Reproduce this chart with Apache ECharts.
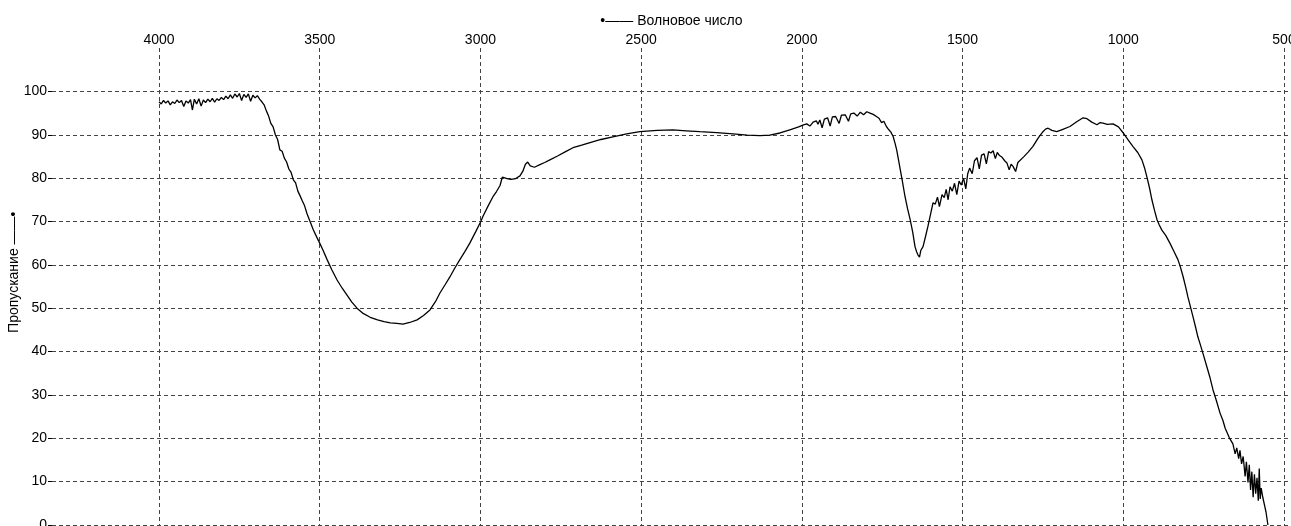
<!DOCTYPE html>
<html><head><meta charset="utf-8">
<script src="https://cdn.jsdelivr.net/npm/echarts@6/dist/echarts.min.js"></script>
<style>html,body{margin:0;padding:0;background:#fff}#c{width:1291px;height:526px}</style>
</head><body><div id="c"></div>
<script>
const wavenumbers = [4000,3993,3986,3979,3972,3965,3958,3951,3944,3937,3930,3923,3916,3909,3902,3896,3890,3883,3876,3869,3862,3855,3848,3841,3834,3827,3820,3813,3806,3799,3792,3785,3778,3771,3764,3757,3750,3743,3736,3729,3722,3715,3708,3701,3694,3687,3680,3673,3666,3659,3652,3645,3638,3631,3624,3617,3610,3603,3596,3589,3582,3575,3568,3561,3554,3547,3540,3530,3520,3510,3500,3490,3477,3462,3446,3430,3415,3400,3384,3365,3343,3320,3300,3280,3260,3241,3220,3197,3177,3157,3140,3126,3110,3095,3080,3064,3048,3033,3015,3000,2992,2976,2961,2950,2939,2932,2926,2917,2905,2890,2877,2868,2860,2853,2845,2832,2815,2800,2784,2760,2735,2712,2685,2659,2625,2588,2545,2504,2450,2401,2360,2317,2265,2214,2170,2130,2100,2068,2035,2010,1997,1985,1975,1965,1955,1950,1944,1937,1930,1920,1912,1905,1895,1884,1877,1865,1855,1848,1838,1828,1818,1808,1798,1788,1778,1768,1760,1752,1745,1737,1730,1723,1716,1710,1705,1701,1694,1688,1679,1671,1663,1655,1648,1643,1639,1634,1630,1623,1616,1608,1600,1592,1585,1578,1572,1564,1557,1551,1545,1539,1532,1525,1518,1511,1504,1497,1490,1484,1478,1470,1463,1455,1448,1441,1433,1426,1419,1412,1405,1398,1392,1385,1377,1369,1362,1355,1349,1343,1335,1328,1322,1310,1296,1281,1265,1250,1242,1234,1222,1207,1190,1166,1145,1125,1113,1098,1082,1072,1063,1050,1032,1015,1000,985,969,955,942,934,926,918,911,903,895,888,880,868,855,843,830,822,814,806,799,791,783,775,768,762,751,740,731,721,710,699,690,683,677,670,665,659,652,647,641,637,632,627,621,617,612,608,604,600,596,592,588,584,580,577,574,571,566,561,556,550];
const transmittance = [97.6,97.1,97.9,97.3,97.8,96.9,97.6,97.2,98.0,97.4,97.9,96.5,97.8,97.3,98.1,95.7,98.2,97.1,98.3,96.6,98.0,97.4,98.2,97.6,98.4,97.5,98.3,97.9,98.6,98.1,98.9,98.3,99.2,98.4,99.4,98.7,99.5,97.9,99.3,98.6,99.4,97.7,99.1,98.5,99.0,98.2,97.6,96.9,95.5,94.3,92.6,91.8,90.0,88.9,86.5,86.2,84.6,83.7,82.1,81.3,79.6,78.9,77.0,75.9,74.7,73.6,71.9,70.0,68.1,66.5,65.0,63.4,61.2,58.8,56.5,54.6,53.0,51.4,50.0,48.8,47.9,47.3,46.9,46.6,46.5,46.3,46.7,47.3,48.3,49.6,51.5,53.5,55.4,57.2,59.2,61.2,63.1,65.0,67.6,69.8,71.2,73.6,75.7,76.9,78.3,80.2,80.6,79.9,79.7,79.9,80.5,81.6,83.2,83.7,82.8,82.5,83.1,83.6,84.2,85.1,86.1,87.0,87.6,88.2,88.9,89.5,90.2,90.7,91.0,91.1,90.9,90.7,90.5,90.2,89.9,89.8,89.9,90.4,91.2,91.8,92.2,92.5,92.0,92.9,93.2,92.4,93.4,91.6,93.6,93.9,92.0,94.1,94.2,92.6,94.5,94.6,93.1,94.8,95.0,94.3,95.2,94.6,95.3,95.0,94.7,94.2,93.8,92.8,93.1,91.9,91.2,90.6,89.6,88.0,86.5,84.9,82.0,79.6,75.7,72.9,70.4,67.5,64.2,63.0,62.3,61.8,63.3,64.2,66.3,68.8,71.5,74.3,74.0,75.6,73.4,76.2,75.5,77.4,75.0,78.0,77.0,78.8,76.2,79.3,78.4,80.0,77.5,81.0,82.3,81.0,84.0,84.7,82.1,85.3,85.6,83.3,86.1,85.8,86.3,84.5,85.9,85.2,84.8,84.0,83.5,81.9,83.2,82.7,81.5,83.6,83.8,84.9,86.0,87.3,89.2,90.7,91.3,91.5,91.0,90.7,91.2,91.9,93.0,93.9,93.7,92.9,92.3,92.8,92.7,92.4,92.5,91.8,90.4,88.8,87.2,85.9,84.2,82.4,80.1,77.6,75.0,72.6,70.4,69.2,68.0,66.8,65.0,63.2,61.2,59.4,57.3,54.9,52.6,50.3,48.0,45.6,43.4,42.0,39.3,36.5,34.2,31.2,28.6,25.8,24.1,22.3,21.9,20.1,19.9,18.7,16.4,17.8,15.3,17.2,14.1,15.8,11.2,14.6,9.8,13.9,8.1,12.3,6.4,11.7,7.2,10.9,5.6,13.0,6.0,8.5,6.4,4.7,3.0,0.0];
const xTickValues = [4000,3500,3000,2500,2000,1500,1000,500];
const yTickValues = [0,10,20,30,40,50,60,70,80,90,100];
const xName = '•—— Волновое число';
const yName = 'Пропускание ——•';

const FONT = 'Liberation Sans';
const FS = 14;
const gridLine = {show:true, lineStyle:{color:'#444', type:[4,3], width:1}};
const chart = echarts.init(document.getElementById('c'), null, {renderer:'canvas'});
chart.setOption({
  animation:false,
  backgroundColor:'#fff',
  grid:[
    {left:52, right:0, top:91.4, bottom:1, outerBoundsMode:'none', containLabel:false},
    {left:159, right:7, top:48, bottom:1, outerBoundsMode:'none', containLabel:false}
  ],
  xAxis:[
    {gridIndex:0, type:'value', min:0, max:1, position:'top',
     name:xName, nameLocation:'middle', nameGap:63, nameMoveOverlap:false,
     nameTextStyle:{color:'#000', fontSize:FS, fontFamily:FONT},
     axisLine:{show:false}, axisTick:{show:false}, axisLabel:{show:false}, splitLine:{show:false}},
    {gridIndex:1, type:'value', min:500, max:4000, interval:500, inverse:true, position:'top',
     axisLine:{show:false}, axisTick:{show:false},
     axisLabel:{margin:1, color:'#000', fontSize:FS, fontFamily:FONT,
       formatter:v => xTickValues.includes(v) ? String(v) : ''},
     splitLine:gridLine}
  ],
  yAxis:[
    {gridIndex:0, type:'value', min:0, max:100, interval:10,
     name:yName, nameLocation:'middle', nameRotate:90, nameGap:31, nameMoveOverlap:false,
     nameTextStyle:{color:'#000', fontSize:FS, fontFamily:FONT, padding:[0,0,0,72]},
     axisLine:{show:false},
     axisTick:{show:true, length:4, lineStyle:{color:'#000'}},
     axisLabel:{margin:5, color:'#000', fontSize:FS, fontFamily:FONT,
       formatter:v => yTickValues.includes(v) ? String(v) : ''},
     splitLine:gridLine},
    {gridIndex:1, type:'value', min:0, max:110, show:false}
  ],
  series:[{
    type:'line', xAxisIndex:1, yAxisIndex:1,
    data: wavenumbers.map((w,i)=>[w, transmittance[i]]),
    symbol:'none', showSymbol:false,
    lineStyle:{color:'#000', width:1.3},
    emphasis:{disabled:true}
  }]
});
</script></body></html>
